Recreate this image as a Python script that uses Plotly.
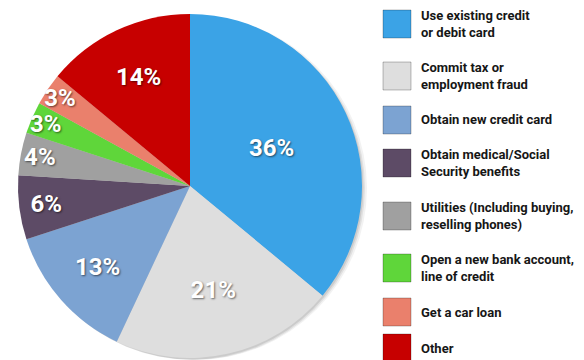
import plotly.graph_objects as go

categories = [
    "Use existing credit<br>or debit card",
    "Commit tax or<br>employment fraud",
    "Obtain new credit card",
    "Obtain medical/Social<br>Security benefits",
    "Utilities (Including buying,<br>reselling phones)",
    "Open a new bank account,<br>line of credit",
    "Get a car loan",
    "Other",
]
values = [36, 21, 13, 6, 4, 3, 3, 14]
colors = ["#3BA3E6", "#DEDEDE", "#7CA3D2", "#5D4B66", "#A0A0A0", "#5FD63A", "#EA806C", "#C70000"]

FONT = "Roboto, Liberation Sans, sans-serif"
W, H = 584, 360

fig = go.Figure()

# soft drop shadow behind the pie (decorative)
for off, alpha in [(5, 0.05), (3, 0.07), (1.5, 0.09)]:
    dy = min(off, 2)
    fig.add_trace(go.Pie(
        values=[1], sort=False, textinfo="none", hoverinfo="skip",
        marker=dict(colors=[f"rgba(0,0,0,{alpha})"], line=dict(width=0)),
        domain=dict(x=[(18 + off) / W, (362 + off) / W],
                    y=[(2 - dy) / H, (346 - dy) / H]),
        showlegend=False,
    ))

fig.add_trace(go.Pie(
    labels=categories,
    values=values,
    sort=False,
    direction="clockwise",
    rotation=0,
    marker=dict(colors=colors, line=dict(width=0)),
    texttemplate="%{value}%",
    textposition="inside",
    insidetextorientation="horizontal",
    textfont=dict(family=FONT, size=24, color="white", weight="bold",
                  shadow="1px 1px 2px rgba(0,0,0,0.55)"),
    domain=dict(x=[18 / W, 362 / W], y=[2 / H, 346 / H]),
    showlegend=False,
    hoverinfo="label+percent",
))

# manual legend
legend_y = [24, 76, 120, 163, 216, 268, 312, 348]
sq = 28
for lab, c, yc in zip(categories, colors, legend_y):
    fig.add_shape(type="rect", xref="paper", yref="paper",
                  x0=383 / W, x1=(383 + sq) / W,
                  y0=1 - (yc - sq / 2) / H, y1=1 - (yc + sq / 2) / H,
                  fillcolor=c, line=dict(color="rgba(0,0,0,0.25)", width=1))
    fig.add_annotation(xref="paper", yref="paper", x=419 / W, y=1 - yc / H,
                       xanchor="left", yanchor="middle", align="left",
                       text=lab, showarrow=False,
                       font=dict(family=FONT, size=13, color="#161616", weight="bold"))

fig.update_layout(
    width=W, height=H,
    margin=dict(l=0, r=0, t=0, b=0),
    paper_bgcolor="white", plot_bgcolor="white",
    uniformtext=dict(minsize=22, mode="show"),
)
fig.write_html("out.html")
